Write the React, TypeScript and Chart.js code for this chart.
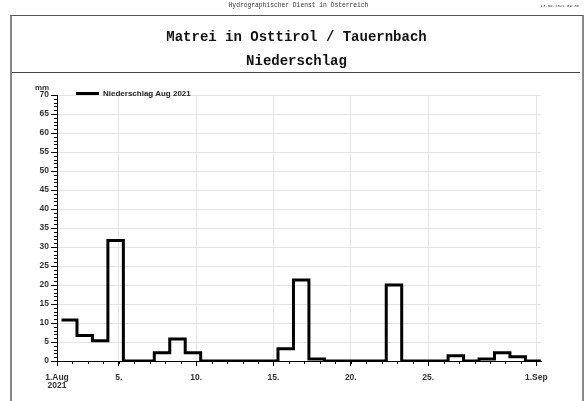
import React, { useEffect, useRef } from 'react';
import { Chart, registerables } from 'chart.js';

Chart.register(...registerables);

// Daily precipitation (mm), measured 07:00 -> 07:00, Aug 2021
const precipitation = [
  10.8, 6.7, 5.3, 31.7, 0, 0, 2.2, 5.8, 2.2, 0,
  0, 0, 0, 0, 3.2, 21.3, 0.5, 0, 0, 0,
  0, 20.0, 0, 0, 0, 1.4, 0, 0.5, 2.2, 1.1,
  0,
];
const measureHourOffset = 7 / 24;
const xTickValues = [0, 4, 9, 14, 19, 24, 31];
const xTickLabels = ['1.Aug', '5.', '10.', '15.', '20.', '25.', '1.Sep'];
const yearLabel = '2021';
const seriesLabel = 'Niederschlag Aug 2021';
const headerText = 'Hydrographischer Dienst in Österreich';
const dateText = '13.09.2021 09:30';
const titleText = 'Matrei in Osttirol / Tauernbach';
const subtitleText = 'Niederschlag';
const unitText = 'mm';

const GRID = '#e3e3e3';
const TICK_FONT = { family: 'Liberation Sans', size: 8.5, weight: 'bold' as const, lineHeight: 0.95 };

const minorTicks = {
  id: 'minorTicks',
  afterDraw(chart: any) {
    const { ctx, chartArea, scales } = chart;
    ctx.save();
    ctx.strokeStyle = '#000';
    ctx.lineWidth = 1;
    for (let d = 0; d <= 31; d++) {
      const px = Math.round(scales.x.getPixelForValue(d)) + 0.5;
      ctx.beginPath();
      ctx.moveTo(px, chartArea.bottom);
      ctx.lineTo(px, chartArea.bottom + 3);
      ctx.stroke();
    }
    for (let v = 0; v <= 70; v++) {
      const py = Math.round(scales.y.getPixelForValue(v)) + 0.5;
      ctx.beginPath();
      ctx.moveTo(chartArea.left - 3, py);
      ctx.lineTo(chartArea.left, py);
      ctx.stroke();
    }
    ctx.restore();
  },
};

function PrecipChart() {
  const ref = useRef<HTMLCanvasElement | null>(null);
  useEffect(() => {
    if (!ref.current) return;
    // each value holds from its 07:00 start until the next day's 07:00
    const points = precipitation.map((v, i) => ({ x: i + measureHourOffset, y: v }));
    points.push({ x: precipitation.length + measureHourOffset, y: precipitation[precipitation.length - 1] });
    const chart = new Chart(ref.current, {
      type: 'line',
      data: {
        datasets: [
          {
            label: seriesLabel,
            data: points,
            stepped: 'before',
            borderColor: '#000',
            borderWidth: 3,
            pointRadius: 0,
            fill: false,
            borderJoinStyle: 'miter',
          } as any,
        ],
      },
      options: {
        animation: false,
        responsive: false,
        devicePixelRatio: 1,
        layout: { padding: { left: 0, top: 95, right: 45, bottom: 0 } },
        plugins: { legend: { display: false }, tooltip: { enabled: false }, title: { display: false } },
        scales: {
          x: {
            type: 'linear',
            min: 0,
            max: 31.3,
            afterBuildTicks: (s: any) => {
              s.ticks = xTickValues.map((v) => ({ value: v }));
            },
            afterFit: (s: any) => {
              s.height = 40;
            },
            ticks: {
              autoSkip: false,
              maxRotation: 0,
              padding: 8,
              color: '#333',
              font: TICK_FONT,
              callback: (value: any, index: number) =>
                index === 0 ? [xTickLabels[0], yearLabel] : xTickLabels[index],
            },
            grid: {
              color: (c: any) => (c.tick && c.tick.value === 0 ? 'rgba(0,0,0,0)' : GRID),
              tickColor: '#000',
              tickLength: 5,
              lineWidth: 1,
            },
            border: { color: '#000', width: 1 },
          },
          y: {
            min: 0,
            max: 70,
            afterFit: (s: any) => {
              s.width = 57;
            },
            ticks: { stepSize: 5, padding: 2, color: '#333', font: TICK_FONT },
            grid: { color: GRID, tickColor: '#000', tickLength: 6, lineWidth: 1 },
            border: { color: '#000', width: 1 },
          },
        },
      },
      plugins: [minorTicks],
    });
    return () => chart.destroy();
  }, []);
  return <canvas ref={ref} width={586} height={401} style={{ position: 'absolute', left: 0, top: 0 }} />;
}

export default function App() {
  const abs = { position: 'absolute' as const };
  return (
    <div style={{ position: 'fixed', left: 0, top: 0, width: 586, height: 401, overflow: 'hidden', background: '#fff' }}>
      <PrecipChart />
      <div
        style={{
          ...abs,
          left: 10,
          top: 15,
          width: 570,
          height: 420,
          borderLeft: '2px solid #888',
          borderRight: '2px solid #888',
          borderTop: '1px solid #555',
          pointerEvents: 'none',
        }}
      />
      <div style={{ ...abs, left: 12, top: 72, width: 568, height: 0, borderTop: '1px solid #444' }} />
      <div
        style={{
          ...abs,
          left: 298.5,
          top: 2,
          transform: 'translateX(-50%)',
          whiteSpace: 'nowrap',
          font: '6.3px "Liberation Mono", monospace',
          lineHeight: '8px',
          color: '#333',
        }}
      >
        {headerText}
      </div>
      <div
        style={{
          ...abs,
          right: 7,
          top: 4,
          whiteSpace: 'nowrap',
          font: '4px "Liberation Mono", monospace',
          lineHeight: '5px',
          color: '#444',
        }}
      >
        {dateText}
      </div>
      <div
        style={{
          ...abs,
          left: 296.5,
          top: 29.5,
          transform: 'translateX(-50%)',
          whiteSpace: 'nowrap',
          font: 'bold 14px "Liberation Mono", monospace',
          lineHeight: '14px',
          color: '#111',
        }}
      >
        {titleText}
      </div>
      <div
        style={{
          ...abs,
          left: 296.5,
          top: 54,
          transform: 'translateX(-50%)',
          whiteSpace: 'nowrap',
          font: 'bold 14px "Liberation Mono", monospace',
          lineHeight: '14px',
          color: '#111',
        }}
      >
        {subtitleText}
      </div>
      <div
        style={{
          ...abs,
          left: 42,
          top: 84,
          transform: 'translateX(-50%)',
          font: 'bold 8px "Liberation Sans", sans-serif',
          lineHeight: '8px',
          color: '#333',
        }}
      >
        {unitText}
      </div>
      <div style={{ ...abs, left: 76, top: 92, width: 23, height: 3, background: '#000' }} />
      <div
        style={{
          ...abs,
          left: 103,
          top: 89,
          whiteSpace: 'nowrap',
          font: 'bold 8px "Liberation Sans", sans-serif',
          lineHeight: '9px',
          color: '#222',
        }}
      >
        {seriesLabel}
      </div>
    </div>
  );
}
